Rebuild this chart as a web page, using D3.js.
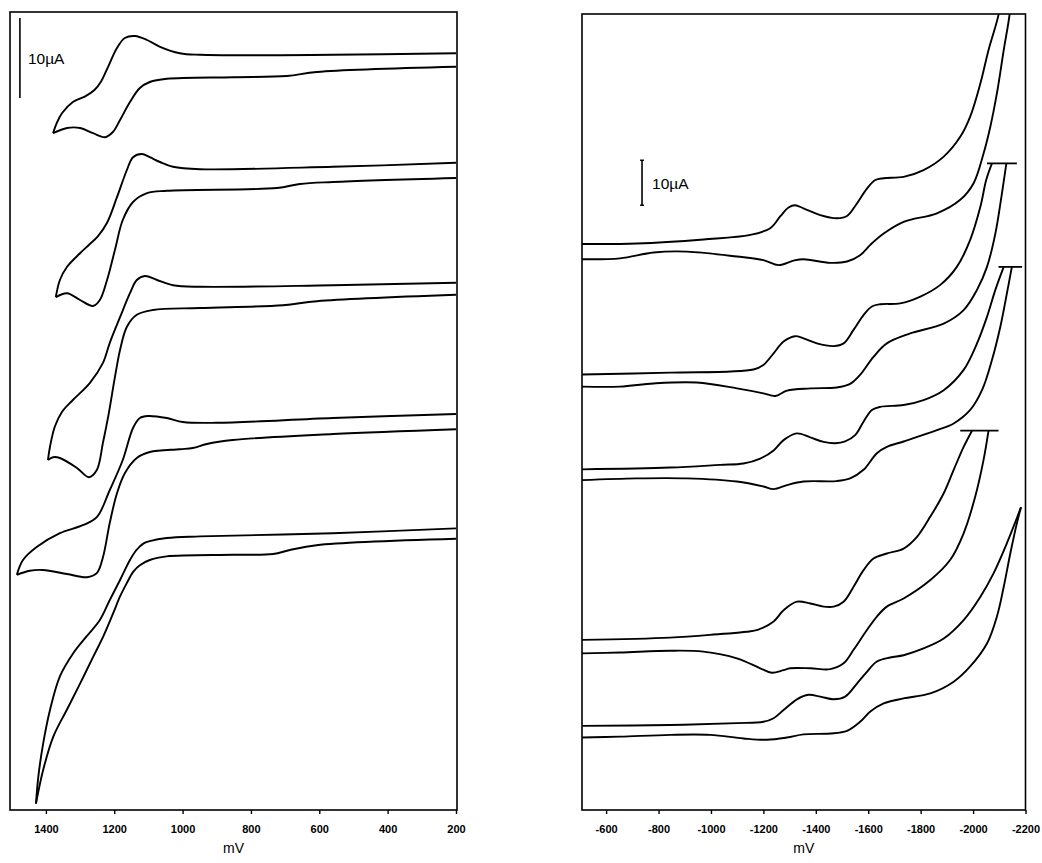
<!DOCTYPE html>
<html>
<head>
<meta charset="utf-8">
<script src="https://d3js.org/d3.v7.min.js"></script>
<style>
  body { margin: 0; background: #fff; }
</style>
</head>
<body>
<script>
//Tick labels (mV)
const leftTicks = [1400, 1200, 1000, 800, 600, 400, 200];
const rightTicks = [-600, -800, -1000, -1200, -1400, -1600, -1800, -2000, -2200];

//Left panel scans: [potential mV, current µA incl. offset]
//"Out" = sweep towards the vertex, "Back" = return sweep
const left1Out = [[200,94.6],[560,94.4],[949,94.4],[1008,94.6],[1066,95.4],[1104,96.25],[1139,96.75],[1169,96.5],[1192,95.25],[1218,92.9],[1238,91.1],[1258,90],[1285,89.2],[1321,88.5],[1353,87.1],[1368,85.9],[1379,84.6]];
const left1Back = [[1379,84.6],[1338,85.25],[1300,85.25],[1262,84.6],[1227,84.1],[1204,84.75],[1183,86.25],[1154,88.5],[1125,90.25],[1096,91],[1046,91.4],[853,91.6],[695,91.75],[607,92.25],[200,92.9]];

const left2Out = [[200,80.9],[560,80.4],[949,80.1],[1028,80.4],[1066,81],[1096,81.6],[1119,82],[1145,81.6],[1163,80],[1192,76.6],[1221,73.4],[1248,71.7],[1275,70.6],[1300,69.6],[1338,67.9],[1359,66.25],[1371,64.1]];
const left2Back = [[1371,64.1],[1338,64.6],[1300,63.75],[1262,63],[1242,63.75],[1221,66.25],[1198,70],[1175,73.75],[1145,76],[1104,77.1],[1046,77.4],[724,77.75],[657,78.25],[560,78.5],[200,79]];

const left3Out = [[200,65.9],[560,65.6],[949,65.4],[1028,65.6],[1075,66.25],[1110,66.75],[1134,66.25],[1154,64.6],[1183,61.6],[1213,58.4],[1233,55.9],[1271,53.4],[1321,51.25],[1353,49.75],[1374,47.9],[1388,45.4],[1394,43.75]];
const left3Back = [[1394,43.75],[1379,44.1],[1359,44],[1309,42.75],[1274,41.6],[1251,42.5],[1233,45.9],[1218,49.1],[1198,54.1],[1183,57.5],[1163,60.4],[1134,61.9],[1087,62.5],[949,62.75],[706,63.1],[607,63.6],[200,64.4]];

const left4Out = [[200,49.5],[560,49],[899,48.4],[999,48.5],[1046,49],[1101,49.25],[1125,49],[1145,47.75],[1175,43.75],[1213,40],[1251,36.6],[1292,35.6],[1359,34.6],[1426,32.9],[1467,31.25],[1485,29.4]];
const left4Back = [[1485,29.4],[1447,29.9],[1409,30],[1338,29.5],[1280,29.1],[1251,29.6],[1233,31.6],[1213,35.9],[1192,39.6],[1169,42.1],[1134,44],[1096,44.75],[1008,45.1],[970,45.25],[929,45.75],[853,46.25],[560,47],[200,47.6]];

const left5Out = [[200,35.2],[560,34.6],[949,34.2],[1046,34],[1096,33.6],[1115,33.3],[1135,32.5],[1154,31.25],[1183,28.75],[1213,26.25],[1242,23.75],[1281,21.7],[1320,19.6],[1359,16.7],[1388,12.5],[1408,8.3],[1422,4.2],[1429,0.8]];
const left5Back = [[1429,0.8],[1408,5],[1378,9.2],[1339,12.5],[1300,15.8],[1261,19.2],[1232,21.7],[1203,24.6],[1183,26.7],[1164,28.3],[1144,29.8],[1125,30.6],[1096,31.25],[1047,31.7],[852,31.9],[735,32],[686,32.5],[608,33.1],[200,33.9]];

//Right panel scans
const right1Out = [[-508,125.8],[-717,125.9],[-972,126.8],[-1150,127.8],[-1226,129.3],[-1264,131.9],[-1296,133.9],[-1321,134.4],[-1353,133.7],[-1417,132.2],[-1480,131.5],[-1519,132],[-1557,134.8],[-1595,138.1],[-1627,140],[-1659,140.4],[-1735,140.7],[-1811,142.2],[-1888,145.2],[-1951,149.6],[-1989,154.1],[-2028,161.5],[-2059,168.9],[-2097,176.7],[-2104,180]];
const right1Back = [[-2143,180],[-2139,176.7],[-2117,168.9],[-2091,159.3],[-2066,151.9],[-2040,145.9],[-2002,139.3],[-1951,135.6],[-1862,132.6],[-1735,130.7],[-1659,128.1],[-1608,125.6],[-1569,123.3],[-1519,121.9],[-1455,121.6],[-1353,122.4],[-1315,122.1],[-1258,121.1],[-1200,122.2],[-1099,123],[-908,124.1],[-781,123.9],[-653,122.6],[-508,122.4]];

const right2Out = [[-508,96.8],[-844,97.2],[-1162,97.9],[-1200,98.9],[-1239,101.5],[-1277,104.1],[-1321,105.3],[-1353,104.8],[-1404,103.7],[-1468,103.1],[-1506,103.7],[-1544,106.7],[-1582,110],[-1614,111.9],[-1646,112.4],[-1722,112.6],[-1799,114.1],[-1875,116.7],[-1938,120.7],[-1989,126.7],[-2028,134.1],[-2050,140],[-2072,143.7]];
const right2Back = [[-2127,143.7],[-2110,137],[-2085,128.1],[-2053,120.7],[-2015,115.6],[-1964,111.1],[-1888,108.1],[-1760,105.9],[-1671,103.7],[-1620,100.7],[-1569,96.7],[-1531,94.7],[-1480,93.9],[-1379,93.7],[-1290,93.2],[-1245,92],[-1200,92.6],[-1099,93.7],[-946,95],[-781,94.8],[-653,94.1],[-508,94.1]];

const right3Out = [[-508,75.7],[-844,76.1],[-1035,76.7],[-1124,77],[-1188,78.1],[-1239,79.9],[-1277,82.2],[-1328,83.7],[-1379,82.8],[-1430,81.8],[-1474,81.5],[-1512,81.9],[-1550,83.3],[-1582,86.3],[-1614,88.9],[-1646,89.6],[-1735,90],[-1811,91.1],[-1888,93.3],[-1964,97.8],[-2015,103.7],[-2053,109.6],[-2085,115.6],[-2117,120.7]];
const right3Back = [[-2148,120.7],[-2129,114.8],[-2104,107.4],[-2072,100],[-2034,93.3],[-1989,88.9],[-1926,85.9],[-1862,84.4],[-1735,81.9],[-1671,80.7],[-1633,79.3],[-1582,75.6],[-1531,73.7],[-1480,73.1],[-1353,73],[-1290,72.2],[-1239,71.3],[-1200,71.9],[-1099,73],[-908,73.7],[-717,73.7],[-508,73.3]];

const right4Out = [[-508,37.8],[-844,38.3],[-1035,39.1],[-1137,39.6],[-1181,40.1],[-1239,41.9],[-1277,44.4],[-1328,46.3],[-1379,45.9],[-1430,45.2],[-1468,45.2],[-1506,46.3],[-1544,49.6],[-1582,53.3],[-1620,55.9],[-1671,57],[-1735,58.1],[-1786,60.7],[-1837,65.2],[-1888,70.4],[-1926,75.6],[-1964,80.7],[-1996,84.3]];
const right4Back = [[-2059,84.3],[-2040,77.8],[-2008,69.6],[-1964,61.5],[-1913,55.6],[-1837,51.1],[-1735,47],[-1671,45.2],[-1633,43],[-1595,40],[-1544,35.6],[-1506,32.6],[-1455,31.3],[-1379,31.5],[-1302,31.5],[-1277,31.1],[-1232,30.5],[-1188,31.5],[-1099,33.7],[-971,35.2],[-844,35.4],[-653,35],[-508,34.8]];

const right5Out = [[-508,18.7],[-844,18.9],[-1099,19.3],[-1200,19.6],[-1239,20.4],[-1277,22.2],[-1328,24.6],[-1372,25.6],[-1417,25.2],[-1468,24.6],[-1512,25.2],[-1557,28.1],[-1595,30.7],[-1633,33],[-1684,33.9],[-1735,34.4],[-1811,35.9],[-1888,38.1],[-1964,42.2],[-2028,47.4],[-2078,52.6],[-2129,59.3],[-2183,67.3]];
const right5Back = [[-2183,67.3],[-2167,63.7],[-2142,57],[-2117,49.6],[-2091,43],[-2053,37],[-1989,31.9],[-1926,28.5],[-1837,25.9],[-1735,24.8],[-1659,23.7],[-1608,21.9],[-1569,19.6],[-1519,17.6],[-1455,17],[-1353,16.8],[-1290,16.1],[-1213,15.6],[-1124,15.9],[-997,16.7],[-844,16.7],[-653,16.3],[-508,16.1]];

//Off-scale markers: [from mV, to mV, current µA]
const rightCaps = [[-2053, -2167, 143.7], [-2097, -2187, 120.7], [-1951, -2097, 84.3]];

//Define SVG
let svgWidth = 1042;
let svgHeight = 863;

let svg = d3.select("body")
    .append("svg")
    .attr("width", svgWidth)
    .attr("height", svgHeight)
    .style("display", "block");

let defs = svg.append("defs");

//Scales
let xLeft = d3.scaleLinear().domain([1505, 197]).range([10, 457]);
let yLeft = d3.scaleLinear().domain([0, 99.75]).range([810, 12]);
let xRight = d3.scaleLinear().domain([-508, -2200]).range([582, 1025.5]);
let yRight = d3.scaleLinear().domain([0, 176.9]).range([810, 14]);

function drawPanel(id, x, y, branches, ticks) {
    let x0 = x.range()[0], x1 = x.range()[1];
    let y0 = y.range()[1], y1 = y.range()[0];

    defs.append("clipPath")
        .attr("id", "clip-" + id)
        .append("rect")
        .attr("x", x0)
        .attr("y", y0)
        .attr("width", x1 - x0)
        .attr("height", y1 - y0);

    let g = svg.append("g").attr("class", "panel-" + id);

    let line = d3.line()
        .x(d => x(d[0]))
        .y(d => y(d[1]))
        .curve(d3.curveCatmullRom.alpha(0.5));

    g.append("g")
        .attr("clip-path", "url(#clip-" + id + ")")
        .selectAll("path")
        .data(branches)
        .enter()
        .append("path")
        .attr("d", line)
        .style("fill", "none")
        .style("stroke", "#000")
        .style("stroke-width", 1.9)
        .style("stroke-linejoin", "round");

    //frame
    g.append("rect")
        .attr("x", x0)
        .attr("y", y0)
        .attr("width", x1 - x0)
        .attr("height", y1 - y0)
        .style("fill", "none")
        .style("stroke", "#000")
        .style("stroke-width", 1.6);

    //bottom axis
    let axis = g.append("g")
        .attr("transform", "translate(0," + y1 + ")")
        .call(d3.axisBottom(x)
            .tickValues(ticks)
            .tickSize(4)
            .tickPadding(11)
            .tickFormat(d => String(d)));

    axis.select(".domain").remove();
    axis.selectAll(".tick line").style("stroke-width", 1.4);
    axis.selectAll("text")
        .attr("font-size", null)
        .attr("font-family", null)
        .style("font-family", "'Liberation Sans', Arial, sans-serif")
        .style("font-size", "11px")
        .style("font-weight", "bold");

    g.append("text")
        .attr("x", (x0 + x1) / 2)
        .attr("y", 853)
        .attr("text-anchor", "middle")
        .style("font-family", "'Liberation Sans', Arial, sans-serif")
        .style("font-size", "14px")
        .text("mV");

    return g;
}

let leftPanel = drawPanel("left", xLeft, yLeft,
    [left1Out, left1Back, left2Out, left2Back, left3Out, left3Back, left4Out, left4Back, left5Out, left5Back],
    leftTicks);

let rightPanel = drawPanel("right", xRight, yRight,
    [right1Out, right1Back, right2Out, right2Back, right3Out, right3Back, right4Out, right4Back, right5Out, right5Back],
    rightTicks);

//off-scale caps on the right panel
rightPanel.selectAll(".cap")
    .data(rightCaps)
    .enter()
    .append("line")
    .attr("class", "cap")
    .attr("x1", d => xRight(d[0]))
    .attr("x2", d => xRight(d[1]))
    .attr("y1", d => yRight(d[2]))
    .attr("y2", d => yRight(d[2]))
    .style("stroke", "#000")
    .style("stroke-width", 1.8);

//10 µA scale bars
function scaleBar(g, x, y, mv, top, caps, labelDx) {
    let bx = x(mv);
    g.append("line")
        .attr("x1", bx).attr("x2", bx)
        .attr("y1", y(top)).attr("y2", y(top - 10))
        .style("stroke", "#000")
        .style("stroke-width", 1.6);
    if (caps) {
        [top, top - 10].forEach(v => {
            g.append("line")
                .attr("x1", bx - 2).attr("x2", bx + 2)
                .attr("y1", y(v)).attr("y2", y(v))
                .style("stroke", "#000")
                .style("stroke-width", 1.4);
        });
    }
    g.append("text")
        .attr("x", bx + labelDx)
        .attr("y", (y(top) + y(top - 10)) / 2 + 6)
        .style("font-family", "'Liberation Sans', Arial, sans-serif")
        .style("font-size", "15.5px")
        .text("10\u00b5A");
}

scaleBar(leftPanel, xLeft, yLeft, 1476, 99, false, 8);
scaleBar(rightPanel, xRight, yRight, -737, 144.4, true, 10);
</script>
</body>
</html>
